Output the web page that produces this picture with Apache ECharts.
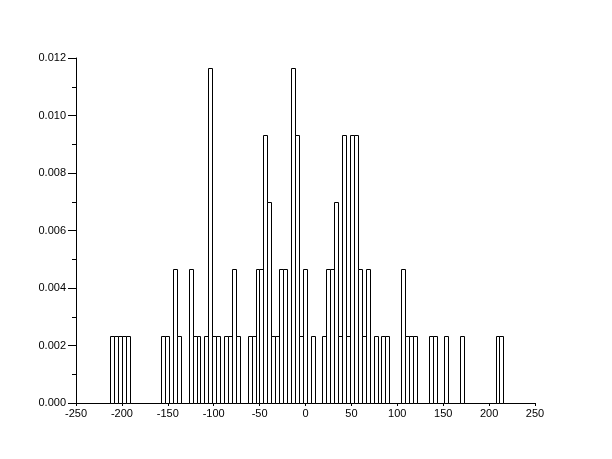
<!DOCTYPE html>
<html>
<head>
<meta charset="utf-8">
<script src="https://cdn.jsdelivr.net/npm/echarts@6/dist/echarts.min.js"></script>
<style>html,body{margin:0;padding:0;background:#fff;}#c{width:612px;height:459px;}</style>
</head>
<body>
<div id="c"></div>
<script>
// Histogram: 100 equal bins, counts per bin
var binStart = -213.0;
var binWidth = 4.286;
var sampleCount = 100;
var binCounts = [
  1,1,1,1,1,0,0,0,0,0,
  0,0,0,1,1,0,2,1,0,0,
  2,1,1,0,1,5,1,1,0,1,
  1,2,1,0,0,1,1,2,2,4,
  3,1,1,2,2,0,5,4,1,2,
  0,1,0,0,1,2,2,3,1,4,
  1,4,4,2,1,2,0,1,0,1,
  1,0,0,0,2,1,1,1,0,0,
  0,1,1,0,0,1,0,0,0,1,
  0,0,0,0,0,0,0,0,1,1
];
var xTicks = [-250, 250, 50];
var yTicks = [0, 0.012, 0.002];

var data = binCounts.map(function (c, i) {
  var x0 = binStart + i * binWidth;
  return [x0, x0 + binWidth, c / (sampleCount * binWidth)];
}).filter(function (d) { return d[2] > 0; });

var chart = echarts.init(document.getElementById('c'), null, {renderer: 'canvas'});
var lbl = {color: '#000', fontFamily: 'Liberation Sans', fontSize: 11};
chart.setOption({
  animation: false,
  backgroundColor: '#fff',
  grid: {left: 76, right: 77, top: 58, bottom: 56, containLabel: false},
  xAxis: {
    type: 'value', min: xTicks[0], max: xTicks[1], interval: xTicks[2],
    axisLine: {onZero: false, lineStyle: {color: '#000', width: 1}},
    axisTick: {inside: false, length: 3, lineStyle: {color: '#000'}},
    axisLabel: Object.assign({margin: 5, showMinLabel: true, showMaxLabel: true}, lbl),
    splitLine: {show: false}
  },
  yAxis: {
    type: 'value', min: yTicks[0], max: yTicks[1], interval: yTicks[2],
    axisLine: {show: true, onZero: false, lineStyle: {color: '#000', width: 1}},
    axisTick: {show: true, inside: false, length: 8, lineStyle: {color: '#000'}},
    minorTick: {show: true, splitNumber: 2, length: 4, lineStyle: {color: '#000'}},
    axisLabel: Object.assign({margin: 10, formatter: function (v) { return v.toFixed(3); }}, lbl),
    splitLine: {show: false}
  },
  series: [{
    type: 'custom',
    data: data,
    encode: {x: [0, 1], y: 2},
    renderItem: function (params, api) {
      var p0 = api.coord([api.value(0), api.value(2)]);
      var p1 = api.coord([api.value(1), 0]);
      var x0 = Math.round(p0[0]) + 0.5, x1 = Math.round(p1[0]) + 0.5;
      var y0 = Math.round(p0[1]) + 0.5, y1 = Math.round(p1[1]) + 0.5;
      return {
        type: 'rect',
        shape: {x: x0, y: y0, width: x1 - x0, height: y1 - y0},
        style: {fill: '#fff', stroke: '#000', lineWidth: 1}
      };
    }
  }]
});
</script>
</body>
</html>
